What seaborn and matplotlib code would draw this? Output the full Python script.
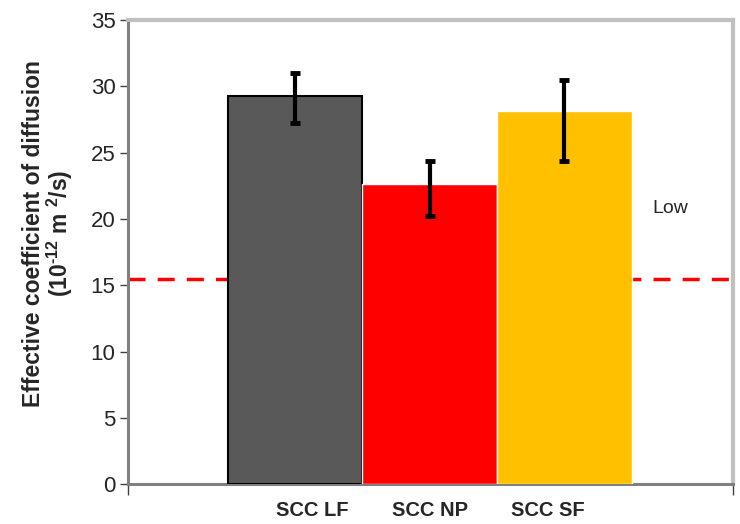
import numpy as np
import matplotlib
matplotlib.use("Agg")
import matplotlib.pyplot as plt
import seaborn as sns

# data
mixes = ["SCC LF", "SCC NP", "SCC SF"]
diffusion = [29.3, 22.6, 28.1]
err_low = [27.2, 20.2, 24.4]
err_high = [31.0, 24.4, 30.5]
bar_colors = ["#595959", "#ff0000", "#ffc000"]
low_limit = 15.5

sns.set_style("white")
plt.rcParams["font.family"] = ["Liberation Sans", "DejaVu Sans"]
plt.rcParams["mathtext.fontset"] = "custom"
plt.rcParams["mathtext.rm"] = "Liberation Sans:bold"
plt.rcParams["mathtext.bf"] = "Liberation Sans:bold"
plt.rcParams["mathtext.it"] = "Liberation Sans:bold"

fig = plt.figure(figsize=(7.4, 5.24), dpi=100)
ax = fig.add_axes([0.173, 0.076, 0.817, 0.886])

sns.barplot(x=mixes, y=diffusion, hue=mixes, palette=bar_colors, width=1.0,
            legend=False, saturation=1, ax=ax, zorder=3)
ax.patches[0].set_edgecolor("black")
ax.patches[0].set_linewidth(1.5)

vals = np.array(diffusion)
yerr = [vals - np.array(err_low), np.array(err_high) - vals]
ax.errorbar(np.arange(len(mixes)), vals, yerr=yerr, fmt="none", ecolor="black",
            elinewidth=3, capsize=3.5, capthick=3.5, zorder=4)

ax.axhline(low_limit, color="#ff0000", lw=2.5, ls=(0, (4.9, 3.5)), zorder=1)
ax.text(2.79, 20.8, "Low", fontsize=14, ha="center", va="center")

ax.set_xlim(-1.24, 3.25)
ax.set_ylim(0, 35)
ax.set_yticks(range(0, 36, 5))
ax.tick_params(axis="y", labelsize=16, length=6, width=1, color="#404040",
               left=True, direction="out", pad=3)

ax.set_xticks([0.13, 1.0, 1.88])
ax.set_xticklabels(mixes, fontsize=14.5, fontweight="bold")
ax.tick_params(axis="x", length=0, pad=12)
ax.set_xticks([-1.24, 3.25], minor=True)
ax.tick_params(axis="x", which="minor", length=8, width=1, color="#404040",
               bottom=True)

ax.set_ylabel("Effective coefficient of diffusion\n(10$^{\\text{-12}}$ m $^{2}$/s)",
              fontsize=16.5, fontweight="bold", linespacing=1.0)
ax.yaxis.set_label_coords(-0.087, 0.54)
ax.set_xlabel("")

for side in ["left", "bottom"]:
    ax.spines[side].set_color("#808080")
    ax.spines[side].set_linewidth(2.2)
for side in ["top", "right"]:
    ax.spines[side].set_color("#c0c0c0")
    ax.spines[side].set_linewidth(3)

fig.savefig("out.png", dpi=100)
